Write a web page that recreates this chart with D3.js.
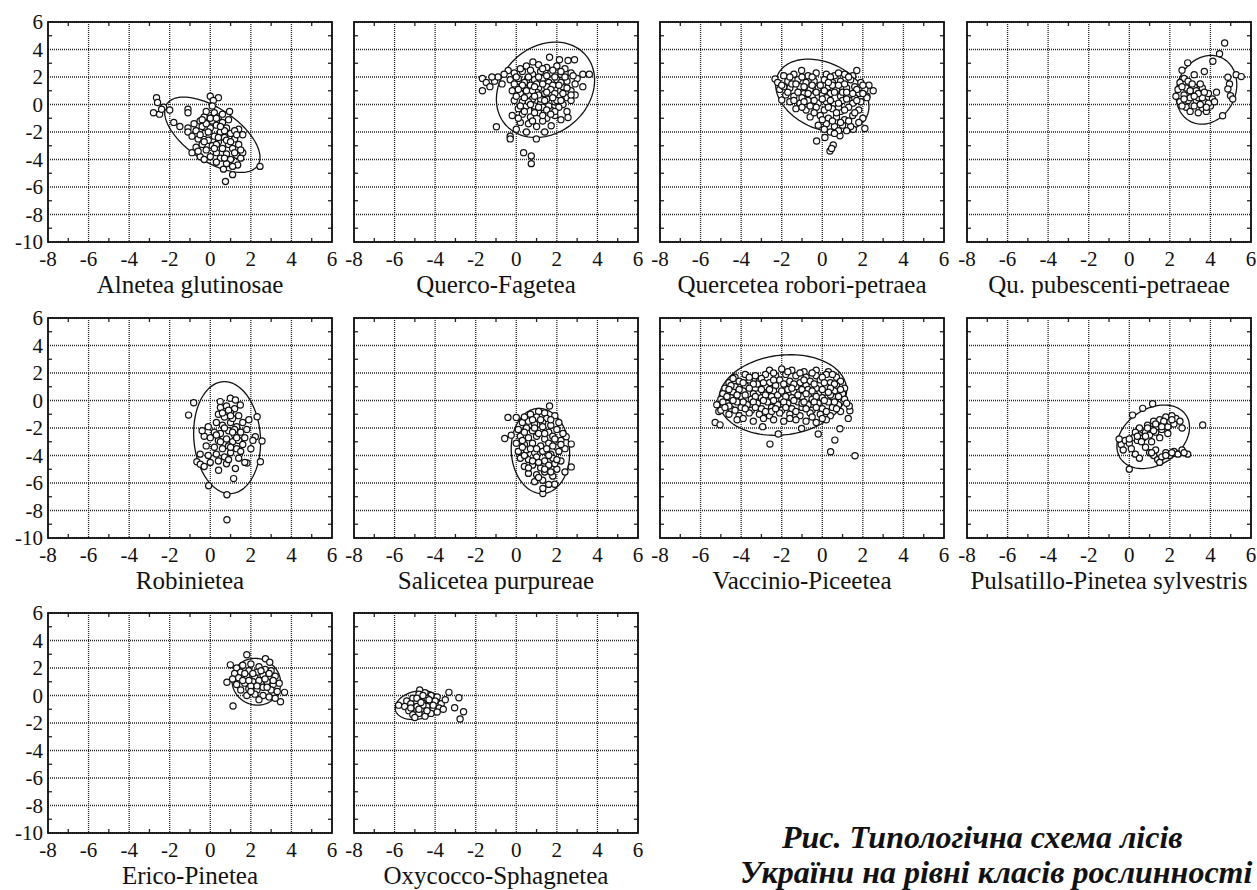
<!DOCTYPE html>
<html>
<head>
<meta charset="utf-8">
<script src="https://cdn.jsdelivr.net/npm/d3@7"></script>
<style>
  body { margin: 0; background: #fff; }
  svg { display: block; }
  .tick-label { font-family: "Liberation Serif", "Times New Roman", serif; font-size: 21px; fill: #111; }
  .panel-title { font-family: "Liberation Serif", "Times New Roman", serif; font-size: 25px; fill: #111; }
  .caption { font-family: "Liberation Serif", "Times New Roman", serif; font-size: 32px; font-weight: bold; font-style: italic; fill: #111; }
</style>
</head>
<body>
<div id="chart"></div>
<script>
// panel names (x axis labels), in reading order
var panelNames = ["Alnetea glutinosae", "Querco-Fagetea", "Quercetea robori-petraea", "Qu. pubescenti-petraeae",
                  "Robinietea", "Salicetea purpureae", "Vaccinio-Piceetea", "Pulsatillo-Pinetea sylvestris",
                  "Erico-Pinetea", "Oxycocco-Sphagnetea"];

var xTicks = [-8, -6, -4, -2, 0, 2, 4, 6];
var yTicks = [-10, -8, -6, -4, -2, 0, 2, 4, 6];

// confidence ellipses: [cx, cy, half width, half height, correlation]
var ellipses = [
  [0.1, -2.2, 2.35, 2.74, -0.6],
  [1.44, 1.07, 2.42, 3.47, 0.2],
  [0.0, 0.65, 2.3, 2.65, -0.3],
  [3.8, 1.07, 1.5, 2.5, 0.15],
  [0.83, -2.7, 1.65, 4.07, -0.08],
  [1.19, -3.67, 1.44, 3.1, -0.05],
  [-1.95, 0.4, 3.15, 2.93, 0.12],
  [1.18, -2.64, 1.79, 2.31, 0.3],
  [2.27, 1.0, 1.2, 1.7, -0.05],
  [-4.87, -0.7, 1.1, 1.05, 0.2]
];

var alnetea = [[-2.65,0.5],[-2.6,0.15],[-2.3,-0.2],[-2.8,-0.6],[-2.5,-0.7],[-2.0,-0.4],[-2.4,-0.35],
  [-1.1,-0.35],[-1.1,-0.6],[0.0,0.6],[0.4,0.5],[0.15,0.3],[0.1,-0.1],
  [-1.8,-1.3],[-1.5,-1.6],[-1.1,-1.7],[-1.1,-2.0],[0.95,-0.5],
  [-0.9,-3.5],[-0.5,-3.8],[0.65,-4.7],[0.75,-5.6],[1.1,-5.1],[1.35,-4.4],[2.45,-4.5],[1.6,-3.5],[1.4,-1.8],
  [-0.8,-1.4],[-0.5,-1.2],[-0.3,-0.9],[-0.2,-0.5],[0.2,-0.6],[0.4,-0.9],[0.1,-1.2],[-0.4,-1.6],[-0.7,-1.9],[-0.9,-2.3],
  [-0.6,-2.5],[-0.3,-2.1],[0.0,-1.7],[0.3,-1.5],[0.6,-1.3],[0.8,-1.7],[0.5,-2.0],[0.2,-2.3],[-0.1,-2.6],[-0.4,-2.9],
  [-0.7,-3.1],[-0.2,-3.3],[0.1,-3.0],[0.4,-2.7],[0.7,-2.4],[1.0,-2.1],[1.2,-2.5],[0.9,-2.9],[0.6,-3.2],[0.3,-3.5],
  [0.0,-3.8],[-0.3,-4.0],[0.5,-3.9],[0.8,-3.6],[1.1,-3.2],[1.4,-2.9],[1.5,-3.3],[1.3,-3.7],[1.0,-4.0],[0.8,-4.3],
  [1.1,-4.5],[0.3,-4.2],[-0.5,-2.2],[0.0,-1.0],[0.6,-0.7],[1.2,-1.9],[-0.2,-1.4],[1.6,-2.2],[0.9,-1.1],[0.3,-2.9],
  [-0.4,-1.1],[0.3,-1.0],[0.7,-1.9],[-0.1,-2.0],[0.4,-2.4],[0.8,-2.6],[-0.3,-2.7],[1.0,-2.7],[0.2,-3.2],[0.7,-3.9],
  [1.2,-3.5],[1.3,-2.2],[-0.6,-3.4],[0.5,-1.6],[1.5,-3.9]];

var quercoFagetea = [[-0.98,-1.62],[-0.3,-2.3],[-0.3,-2.5],[0.36,-3.5],[0.74,-3.75],[0.74,-4.3],[1.64,3.44],[2.13,3.25],
  [2.55,3.2],[2.87,3.25],[0.82,3.1],[3.28,2.2],[3.6,2.2],[3.28,1.3],[-1.67,1.9],[-1.67,1.0],[-1.48,1.6],[-1.07,1.7],
  [-0.9,2.0],[-0.4,2.47],[2.55,-0.94],[1.72,-1.55],[1.4,-2.0],[0.99,-2.5],[-1.3,1.3],[-0.7,1.5],[-0.6,2.2],[-1.2,2.0],
  [0.5,2.8],[1.1,2.9],[1.5,2.7],[2.0,2.8],[2.4,2.6],
  [-0.1,2.3],[0.3,2.4],[0.8,2.2],[1.2,2.4],[1.7,2.3],[2.2,2.2],[2.7,2.3],[3.0,1.9],
  [-0.3,1.8],[0.1,1.9],[0.5,1.7],[0.9,1.8],[1.3,1.9],[1.6,1.6],[2.0,1.8],[2.5,1.7],[2.9,1.5],
  [0.0,1.3],[0.4,1.2],[0.7,1.4],[1.1,1.2],[1.5,1.3],[1.9,1.1],[2.3,1.3],[2.7,1.0],[-0.2,1.0],
  [0.2,0.8],[0.6,0.7],[1.0,0.9],[1.3,0.6],[1.7,0.8],[2.1,0.6],[2.5,0.5],[2.9,0.7],
  [-0.1,0.3],[0.3,0.2],[0.8,0.4],[1.2,0.1],[1.5,0.4],[1.9,0.2],[2.3,0.0],[2.7,0.3],
  [0.1,-0.3],[0.5,-0.1],[0.9,-0.3],[1.3,-0.2],[1.7,-0.4],[2.1,-0.2],[2.5,-0.5],
  [-0.2,-0.8],[0.3,-0.7],[0.7,-0.9],[1.1,-0.6],[1.5,-1.0],[1.9,-0.8],[2.2,-1.1],
  [0.2,-1.3],[0.6,-1.4],[1.0,-1.6],[1.3,-1.2],[0.0,-1.8],[0.5,-2.0],
  [1.0,1.5],[1.4,0.8],[0.8,1.0],[1.8,1.4],[1.2,0.4],[0.6,0.2],[1.6,-0.1],[0.4,1.6],[2.2,1.6],[1.1,2.0],[2.0,0.3],[0.9,-0.1],
  [0.2,2.6],[0.7,2.5],[1.3,2.6],[1.8,2.5],[2.2,2.4],[0.0,2.0],[0.6,2.0],[1.5,2.1],[1.9,2.0],[2.4,2.0],[2.8,2.1],
  [-0.1,1.5],[0.3,1.4],[0.9,1.3],[1.3,1.5],[1.7,1.1],[2.1,1.4],[2.5,1.2],[0.1,1.1],[0.5,1.0],[1.1,0.7],[1.5,0.9],
  [1.9,0.8],[2.3,0.8],[2.7,0.7],[0.0,0.6],[0.4,0.5],[0.9,0.6],[1.4,0.3],[1.8,0.5],[2.2,0.3],[0.2,-0.1],[0.7,0.0],
  [1.1,-0.2],[1.5,-0.4],[1.9,-0.5],[0.4,-0.5],[0.9,-0.6],[1.3,-0.8],[1.7,-0.7],[0.1,-1.0],[0.8,-1.2]];

var quercetea = [[-2.33,1.85],[-2.0,0.32],[-1.02,2.47],[1.7,2.47],[2.51,1.0],[2.1,-1.75],[1.53,-1.8],[0.87,-2.28],
  [0.13,-2.4],[-0.28,-2.65],[0.54,-2.94],[0.38,-3.38],[0.46,-3.2],[2.3,1.4],[2.2,0.6],
  [-1.9,2.1],[-1.4,2.2],[-0.7,2.1],[-0.3,2.3],[0.2,2.2],[0.6,2.1],[1.1,2.2],[1.5,2.1],
  [-2.2,1.6],[-1.7,1.7],[-1.2,1.8],[-0.8,1.6],[-0.4,1.7],[0.1,1.8],[0.5,1.6],[0.9,1.7],[1.4,1.8],[1.9,1.6],
  [-2.1,1.1],[-1.6,1.2],[-1.1,1.3],[-0.6,1.1],[-0.2,1.2],[0.3,1.3],[0.7,1.1],[1.2,1.2],[1.6,1.3],[2.1,1.1],
  [-1.8,0.7],[-1.4,0.6],[-0.9,0.8],[-0.5,0.6],[0.0,0.7],[0.4,0.8],[0.9,0.6],[1.3,0.7],[1.8,0.8],[2.2,0.5],
  [-1.6,0.2],[-1.1,0.1],[-0.7,0.3],[-0.2,0.1],[0.2,0.2],[0.6,0.0],[1.0,0.3],[1.5,0.1],[1.9,0.2],
  [-1.3,-0.3],[-0.8,-0.4],[-0.3,-0.2],[0.1,-0.4],[0.5,-0.3],[0.9,-0.5],[1.3,-0.2],[1.8,-0.4],
  [-0.6,-0.9],[-0.1,-0.8],[0.3,-1.0],[0.7,-0.9],[1.1,-1.1],[1.5,-0.8],[2.0,-1.0],
  [-0.2,-1.5],[0.2,-1.4],[0.6,-1.6],[1.0,-1.5],[1.4,-1.6],[0.4,-2.0],[0.8,-1.9],
  [-1.5,1.5],[-0.5,1.4],[0.5,1.4],[1.0,0.9],[-1.0,0.5],[0.2,0.5],[-0.4,-0.6],[0.8,-0.2],[1.6,0.5],[-1.9,1.3],
  [-1.6,2.0],[-1.0,2.0],[-0.5,2.0],[0.4,2.0],[0.8,2.3],[1.3,2.0],[-2.0,1.4],[-1.3,1.5],[-0.9,1.3],[-0.1,1.4],
  [0.3,1.6],[0.8,1.4],[1.1,1.5],[1.7,1.1],[2.0,1.4],[-1.7,0.9],[-1.2,0.9],[-0.7,0.8],[-0.3,0.9],[0.1,1.0],
  [0.6,0.9],[1.2,0.9],[1.5,0.8],[2.0,0.8],[-1.4,0.3],[-0.9,0.2],[-0.4,0.3],[0.0,0.4],[0.4,0.3],[0.8,0.1],
  [1.2,0.4],[1.7,0.3],[-1.0,-0.2],[-0.6,-0.1],[0.3,-0.2],[0.7,-0.6],[1.1,-0.4],[1.6,-0.6],[0.0,-1.1],[0.5,-1.2],
  [0.9,-1.3],[1.3,-1.2],[1.8,-1.3],[0.1,-1.8],[0.6,-2.1],[1.2,-1.9]];

var pubescenti = [[4.7,4.47],[4.45,3.69],[4.12,3.15],[2.88,3.03],[3.7,2.4],[3.2,2.17],[4.86,1.98],[5.27,2.17],
  [5.52,2.03],[4.94,1.5],[4.86,1.13],[4.99,0.64],[5.1,0.4],[4.6,-0.82],[2.7,1.9],[2.6,2.5],
  [2.5,1.6],[2.9,1.7],[2.4,1.1],[2.8,1.2],[3.2,1.3],[3.6,1.2],[2.3,0.6],[2.7,0.7],[3.1,0.8],[3.5,0.7],[3.9,0.8],
  [4.3,0.9],[2.5,0.2],[2.9,0.3],[3.3,0.3],[3.7,0.2],[4.1,0.4],[2.8,-0.2],[3.2,-0.1],[3.6,-0.3],[4.0,-0.1],
  [3.0,-0.5],[3.4,-0.6],[3.8,-0.5],[3.3,1.0],[3.5,0.0],[3.9,0.1],[3.0,0.5],[3.4,0.5],[4.2,0.2],[2.6,-0.1],
  [3.6,0.5],[3.8,-0.2],[3.0,1.0],[3.4,0.8],[2.7,0.4],[3.2,0.6],[3.7,0.9],[2.6,1.3],[3.1,1.5],[3.5,1.5]];

var robinietea = [[-0.82,-0.16],[-1.07,-1.06],[0.82,-8.67],[0.82,-6.85],[-0.08,-6.2],[1.15,-5.68],[0.41,-5.07],
  [1.24,-4.95],[2.31,-1.18],[2.55,-2.95],[2.47,-4.46],[2.22,-2.64],[-0.66,-4.46],[-0.49,-4.63],[1.81,-4.54],
  [0.49,-0.08],[0.99,0.16],[1.24,0.04],[1.48,-0.33],[-0.3,-4.8],[1.7,-4.5],
  [0.5,-0.5],[0.8,-0.4],[1.2,-0.6],[0.4,-1.0],[0.7,-1.2],[1.0,-0.9],[1.4,-1.1],[1.9,-1.4],[0.3,-1.6],[0.6,-1.8],
  [1.0,-1.6],[1.3,-1.9],[1.6,-1.6],[-0.1,-1.9],[0.2,-2.3],[0.5,-2.4],[0.9,-2.2],[1.2,-2.5],[1.5,-2.3],[1.8,-2.1],
  [-0.3,-2.6],[0.0,-2.7],[0.4,-2.9],[0.8,-2.8],[1.1,-3.0],[1.4,-2.9],[1.7,-2.7],[2.1,-2.9],[-0.2,-3.3],[0.2,-3.4],
  [0.6,-3.5],[0.9,-3.3],[1.3,-3.5],[1.6,-3.2],[-0.5,-3.9],[-0.1,-4.0],[0.3,-3.9],[0.7,-4.1],[1.0,-3.8],[1.4,-4.2],
  [0.0,-4.5],[0.4,-4.4],[0.8,-4.6],[2.0,-3.5],[-0.4,-2.2],[1.1,-1.3],[0.9,-0.7],[1.2,-2.1],
  [0.6,-0.9],[1.0,-1.1],[0.7,-2.0],[1.1,-2.3],[0.5,-3.0],[1.0,-3.4],[1.3,-2.7],[0.3,-2.5],[0.9,-4.3],[1.5,-3.7]];

var salicetea = [[1.64,-0.4],[-0.41,-1.23],[0.0,-1.23],[-0.57,-2.76],[-0.25,-2.52],[1.31,-6.77],[1.31,-6.4],
  [1.89,-6.09],[2.71,-4.83],[2.71,-3.17],[2.46,-2.64],[1.1,-0.8],[1.4,-0.9],
  [0.7,-1.0],[1.0,-1.2],[1.5,-1.3],[1.9,-1.1],[0.3,-1.6],[0.6,-1.5],[0.9,-1.7],[1.3,-1.6],[1.7,-1.8],[2.1,-1.6],
  [0.1,-2.1],[0.5,-2.0],[0.8,-2.2],[1.2,-2.1],[1.6,-2.3],[2.0,-2.1],[2.3,-2.4],[0.2,-2.6],[0.6,-2.7],[1.0,-2.6],
  [1.4,-2.8],[1.8,-2.6],[2.2,-2.9],[0.0,-3.1],[0.4,-3.2],[0.8,-3.1],[1.2,-3.3],[1.6,-3.1],[2.0,-3.4],[0.1,-3.7],
  [0.5,-3.6],[0.9,-3.8],[1.3,-3.7],[1.7,-3.9],[2.1,-3.7],[2.4,-3.5],[0.2,-4.2],[0.6,-4.3],[1.0,-4.1],[1.4,-4.4],
  [1.8,-4.2],[2.2,-4.4],[0.4,-4.8],[0.8,-4.7],[1.2,-4.9],[1.6,-4.7],[2.0,-5.0],[0.6,-5.3],[1.0,-5.4],[1.4,-5.2],
  [1.8,-5.5],[0.9,-5.9],[1.3,-5.8],[1.6,-6.1],[1.1,-2.4],[0.7,-3.5],[1.5,-3.5],[1.1,-4.5],[1.3,-1.9],[0.3,-2.9],
  [1.9,-4.6],[2.4,-5.2],
  [0.4,-1.2],[0.8,-1.4],[1.2,-1.4],[1.7,-1.4],[0.4,-2.3],[0.9,-2.0],[1.4,-2.4],[1.9,-2.8],[0.3,-3.4],[1.0,-3.5],
  [1.8,-3.3],[2.2,-3.2],[0.4,-4.0],[0.8,-4.4],[1.6,-4.0],[2.0,-4.3],[0.6,-4.9],[1.4,-5.0],[1.1,-5.6],[1.7,-5.2]];

var vaccinio = [[-5.28,-1.6],[-5.04,-1.77],[-4.55,0.9],[-2.58,-3.17],[-2.94,-1.9],[-2.17,-2.44],[-1.02,-2.03],
  [-0.2,-2.44],[0.87,-2.05],[0.62,-2.88],[0.41,-3.73],[1.61,-4.02],[1.28,-1.3],[1.36,-0.75],[1.33,-0.4],[-5.1,-0.8],[-4.9,-0.5],
  [-2.6,2.2],[-2.0,2.3],[-1.5,2.2],[-0.9,2.1],[-0.3,2.2],[0.3,2.1],
  [-4.3,1.7],[-3.8,1.9],[-3.3,1.8],[-2.8,1.9],[-2.3,1.8],[-1.8,1.9],[-1.3,1.8],[-0.8,1.7],[-0.3,1.8],[0.2,1.9],[0.7,1.7],
  [-4.6,1.3],[-4.1,1.4],[-3.6,1.5],[-3.1,1.4],[-2.6,1.3],[-2.1,1.5],[-1.6,1.4],[-1.1,1.3],[-0.6,1.4],[-0.1,1.5],[0.4,1.3],[0.9,1.4],
  [-4.8,0.9],[-4.3,1.0],[-3.8,1.1],[-3.3,0.9],[-2.8,1.0],[-2.3,1.1],[-1.8,0.9],[-1.3,1.0],[-0.8,1.1],[-0.3,0.9],[0.2,1.0],[0.7,1.1],[1.1,0.9],
  [-4.9,0.5],[-4.4,0.6],[-3.9,0.7],[-3.4,0.5],[-2.9,0.6],[-2.4,0.7],[-1.9,0.5],[-1.4,0.6],[-0.9,0.7],[-0.4,0.5],[0.1,0.6],[0.6,0.7],[1.0,0.5],
  [-5.0,0.1],[-4.5,0.2],[-4.0,0.3],[-3.5,0.1],[-3.0,0.2],[-2.5,0.3],[-2.0,0.1],[-1.5,0.2],[-1.0,0.3],[-0.5,0.1],[0.0,0.2],[0.5,0.3],[1.1,0.1],
  [-5.2,-0.3],[-4.7,-0.2],[-4.2,-0.1],[-3.7,-0.3],[-3.2,-0.2],[-2.7,-0.1],[-2.2,-0.3],[-1.7,-0.2],[-1.2,-0.1],[-0.7,-0.3],[-0.2,-0.2],[0.3,-0.1],[0.8,-0.3],[1.2,-0.2],
  [-5.0,-0.7],[-4.5,-0.6],[-4.0,-0.5],[-3.5,-0.7],[-3.0,-0.6],[-2.5,-0.5],[-2.0,-0.7],[-1.5,-0.6],[-1.0,-0.5],[-0.5,-0.7],[0.0,-0.6],[0.5,-0.5],[0.9,-0.8],
  [-4.6,-1.0],[-4.1,-1.1],[-3.6,-0.9],[-3.1,-1.0],[-2.6,-1.1],[-2.1,-0.9],[-1.6,-1.0],[-1.1,-1.1],[-0.6,-0.9],[-0.1,-1.0],[0.4,-1.1],
  [-4.2,-1.4],[-3.4,-1.5],[-2.4,-1.4],[-1.9,-1.5],[-1.3,-1.4],[-0.8,-1.5],[-0.3,-1.6],[0.2,-1.4],
  [-2.2,0.4],[-1.7,0.8],[-1.2,0.4],[-0.7,0.8],[-3.2,1.2],[-2.5,-0.8],[-1.0,-0.2],[0.4,0.4],[-4.6,-0.4],[-3.8,0.4],
  [-4.4,1.6],[-3.6,1.7],[-3.0,1.6],[-2.4,2.0],[-1.7,2.1],[-1.1,2.0],[-0.5,2.0],[0.0,1.7],[0.5,1.9],[-4.5,1.1],
  [-3.9,1.3],[-3.4,1.2],[-2.9,1.3],[-2.4,1.5],[-1.9,1.2],[-1.4,1.2],[-0.9,1.5],[-0.4,1.2],[0.1,1.3],[0.6,1.2],
  [-4.6,0.8],[-4.1,0.8],[-3.6,0.9],[-3.0,0.8],[-2.6,0.8],[-2.0,0.7],[-1.5,0.9],[-1.0,0.8],[-0.5,0.7],[0.0,0.8],
  [0.4,0.9],[0.9,0.8],[-4.7,0.3],[-4.2,0.4],[-3.3,0.3],[-2.8,0.4],[-1.8,0.3],[-0.8,0.5],[-0.3,0.3],[0.3,0.6],
  [0.8,0.3],[-4.9,-0.1],[-4.4,0.0],[-3.9,-0.1],[-3.4,-0.1],[-2.9,0.0],[-2.4,0.0],[-1.9,-0.1],[-1.4,0.0],[-0.9,-0.1],
  [-0.4,-0.1],[0.1,0.0],[0.6,-0.1],[-4.8,-0.5],[-4.3,-0.7],[-3.8,-0.6],[-3.3,-0.5],[-2.8,-0.8],[-2.3,-0.6],[-1.8,-0.5],
  [-1.3,-0.8],[-0.8,-0.6],[-0.3,-0.5],[0.2,-0.8],[0.7,-0.6],[-3.9,-1.3],[-2.9,-1.3],[-1.6,-1.3],[-0.5,-1.2],[0.0,-1.3]];

var pulsatillo = [[3.62,-1.78],[0.0,-5.0],[1.15,-0.24],[0.66,-0.57],[0.16,-1.06],[2.88,-3.9],[2.31,-3.85],
  [-0.4,-3.2],[-0.2,-2.9],[0.0,-3.1],[0.2,-2.7],[0.4,-2.9],[0.5,-2.5],[0.7,-2.7],[0.8,-2.3],[1.0,-2.5],[1.1,-2.1],
  [1.3,-2.3],[1.4,-1.9],[1.6,-2.1],[1.7,-1.7],[1.9,-1.9],[2.0,-1.5],[2.2,-1.7],[2.3,-1.3],[2.5,-1.5],[1.2,-1.5],
  [1.5,-1.4],[0.9,-1.8],[0.5,-2.0],[1.8,-1.2],[2.1,-1.1],[0.3,-2.3],[0.6,-3.0],[-0.3,-3.6],[0.1,-3.5],[-0.5,-2.8],
  [2.6,-2.0],[1.9,-2.4],[1.5,-2.7],[1.1,-3.0],[0.8,-3.4],[0.3,-3.9],[0.5,-4.2],
  [1.0,-3.8],[1.2,-4.0],[1.4,-4.3],[1.6,-4.1],[1.8,-3.8],[2.0,-4.0],[2.2,-3.7],[2.4,-3.9],[2.6,-3.6],[1.5,-4.5],
  [2.7,-3.8],[1.3,-3.6],
  [0.9,-2.0],[1.3,-1.7],[1.7,-1.5],[2.1,-1.4],[0.4,-2.6],[0.0,-2.8],[0.8,-2.6],[1.2,-2.2],[1.6,-1.9],[1.8,-4.0],
  [2.1,-3.8],[1.1,-3.8]];

var erico = [[1.8,2.96],[0.99,2.23],[0.82,0.96],[1.12,-0.76],[3.46,-0.45],[3.66,0.23],[2.72,2.67],[2.93,2.42],
  [1.3,2.0],[1.6,2.2],[2.0,2.3],[2.4,2.1],[1.2,1.6],[1.5,1.7],[1.9,1.8],[2.3,1.7],[2.7,1.9],[3.0,1.8],[1.1,1.2],
  [1.4,1.3],[1.8,1.4],[2.2,1.3],[2.6,1.5],[2.9,1.3],[3.2,1.4],[1.3,0.8],[1.7,0.9],[2.1,1.0],[2.5,0.9],[2.8,1.0],
  [3.1,0.8],[3.4,0.9],[1.5,0.4],[1.9,0.5],[2.3,0.4],[2.6,0.6],[3.0,0.4],[3.3,0.3],[1.8,0.0],[2.2,0.1],[2.6,0.0],
  [2.9,-0.1],[3.2,-0.2],[2.4,-0.3],[2.0,0.7],[2.4,1.1],[1.6,1.1],[2.9,1.6],
  [1.7,1.6],[2.1,1.6],[2.5,1.8],[2.7,1.2],[2.3,0.7],[2.8,0.6],[1.9,1.1],[3.1,1.1],[2.0,0.3]];

var oxycocco = [[-3.32,0.23],[-2.83,-0.16],[-3.04,-0.89],[-2.6,-1.18],[-2.77,-1.71],[-4.76,0.4],[-5.8,-0.7],
  [-5.4,-0.4],[-5.1,-0.2],[-4.8,0.1],[-4.5,0.2],[-4.2,0.0],[-3.9,-0.1],[-5.5,-0.8],[-5.2,-0.6],[-4.9,-0.5],
  [-4.6,-0.3],[-4.3,-0.5],[-4.0,-0.4],[-3.7,-0.6],[-5.3,-1.1],[-5.0,-0.9],[-4.7,-1.0],[-4.4,-0.8],[-4.1,-1.0],
  [-3.8,-0.9],[-5.1,-1.4],[-4.8,-1.3],[-4.5,-1.5],[-4.2,-1.3],[-3.9,-1.2],[-5.0,-1.6],[-4.6,-0.7],[-4.4,-0.2],
  [-4.9,-0.8],[-3.5,-0.3],[-3.6,-1.0],
  [-4.9,-0.2],[-4.6,0.0],[-4.3,-0.3],[-4.7,-0.5],[-4.4,-1.1],[-4.8,-1.0],[-4.1,-0.7],[-5.2,-0.9]];

var panelPoints = [alnetea, quercoFagetea, quercetea, pubescenti, robinietea, salicetea, vaccinio, pulsatillo, erico, oxycocco];

var captionLines = ["Рис. Типологічна схема лісів", "України на рівні класів рослинності"];

// layout
var W = 1257, H = 890;
var colX = [48, 354, 660, 967];
var rowY = [22, 318, 613];
var pw = 284, ph = 220;

var svg = d3.select("#chart").append("svg")
    .attr("width", W)
    .attr("height", H);
svg.append("rect").attr("width", W).attr("height", H).attr("fill", "#fff");

var x = d3.scaleLinear().domain([-8, 6]).range([0, pw]);
var y = d3.scaleLinear().domain([-10, 6]).range([ph, 0]);

var minorX = d3.range(-7, 6, 2);
var minorY = d3.range(-9, 6, 2);

panelNames.forEach(function(name, i) {
  var col = i % 4, row = Math.floor(i / 4);
  var g = svg.append("g")
      .attr("transform", "translate(" + colX[col] + "," + rowY[row] + ")");

  // dotted grid
  g.append("g").selectAll("line").data(xTicks).enter().append("line")
      .attr("x1", function(d) { return x(d); }).attr("x2", function(d) { return x(d); })
      .attr("y1", 0).attr("y2", ph)
      .attr("stroke", "#222").attr("stroke-width", 1.3).attr("stroke-dasharray", "1,1");
  g.append("g").selectAll("line").data(yTicks).enter().append("line")
      .attr("y1", function(d) { return y(d); }).attr("y2", function(d) { return y(d); })
      .attr("x1", 0).attr("x2", pw)
      .attr("stroke", "#222").attr("stroke-width", 1.3).attr("stroke-dasharray", "1,1");

  // minor ticks on all four sides
  var mt = g.append("g").attr("stroke", "#222").attr("stroke-width", 1.3);
  minorX.forEach(function(v) {
    mt.append("line").attr("x1", x(v)).attr("x2", x(v)).attr("y1", 0).attr("y2", 4);
    mt.append("line").attr("x1", x(v)).attr("x2", x(v)).attr("y1", ph).attr("y2", ph - 4);
  });
  minorY.forEach(function(v) {
    mt.append("line").attr("y1", y(v)).attr("y2", y(v)).attr("x1", 0).attr("x2", 4);
    mt.append("line").attr("y1", y(v)).attr("y2", y(v)).attr("x1", pw).attr("x2", pw - 4);
  });

  // frame
  g.append("rect").attr("width", pw).attr("height", ph)
      .attr("fill", "none").attr("stroke", "#111").attr("stroke-width", 1.8);

  // ellipse
  var e = ellipses[i];
  var ts = d3.range(0, 361, 3).map(function(a) { return a * Math.PI / 180; });
  var line = d3.line()
      .x(function(t) { return x(e[0] + e[2] * Math.cos(t)); })
      .y(function(t) { return y(e[1] + e[3] * (e[4] * Math.cos(t) + Math.sqrt(1 - e[4] * e[4]) * Math.sin(t))); })
      .curve(d3.curveLinearClosed);
  g.append("path").datum(ts)
      .attr("d", line)
      .attr("fill", "none").attr("stroke", "#111").attr("stroke-width", 1.3);

  // points
  g.append("g").selectAll("circle").data(panelPoints[i]).enter().append("circle")
      .attr("cx", function(d) { return x(d[0]); })
      .attr("cy", function(d) { return y(d[1]); })
      .attr("r", 3.1)
      .attr("fill", "#fff")
      .attr("stroke", "#111")
      .attr("stroke-width", 1.2);

  // x tick labels
  g.append("g").selectAll("text").data(xTicks).enter().append("text")
      .attr("class", "tick-label")
      .attr("x", function(d) { return x(d); })
      .attr("y", ph + 24)
      .attr("text-anchor", "middle")
      .text(function(d) { return d; });

  // y tick labels on first column only
  if (col === 0) {
    g.append("g").selectAll("text").data(yTicks).enter().append("text")
        .attr("class", "tick-label")
        .attr("x", -5)
        .attr("y", function(d) { return y(d); })
        .attr("dy", "0.35em")
        .attr("text-anchor", "end")
        .text(function(d) { return d; });
  }

  // panel title
  g.append("text")
      .attr("class", "panel-title")
      .attr("x", pw / 2)
      .attr("y", ph + 51)
      .attr("text-anchor", "middle")
      .text(name);
});

// caption
var captionX = [782, 740];
svg.append("g").selectAll("text").data(captionLines).enter().append("text")
    .attr("class", "caption")
    .attr("x", function(d, i) { return captionX[i]; })
    .attr("y", function(d, i) { return 848 + i * 35; })
    .text(function(d) { return d; });
</script>
</body>
</html>
